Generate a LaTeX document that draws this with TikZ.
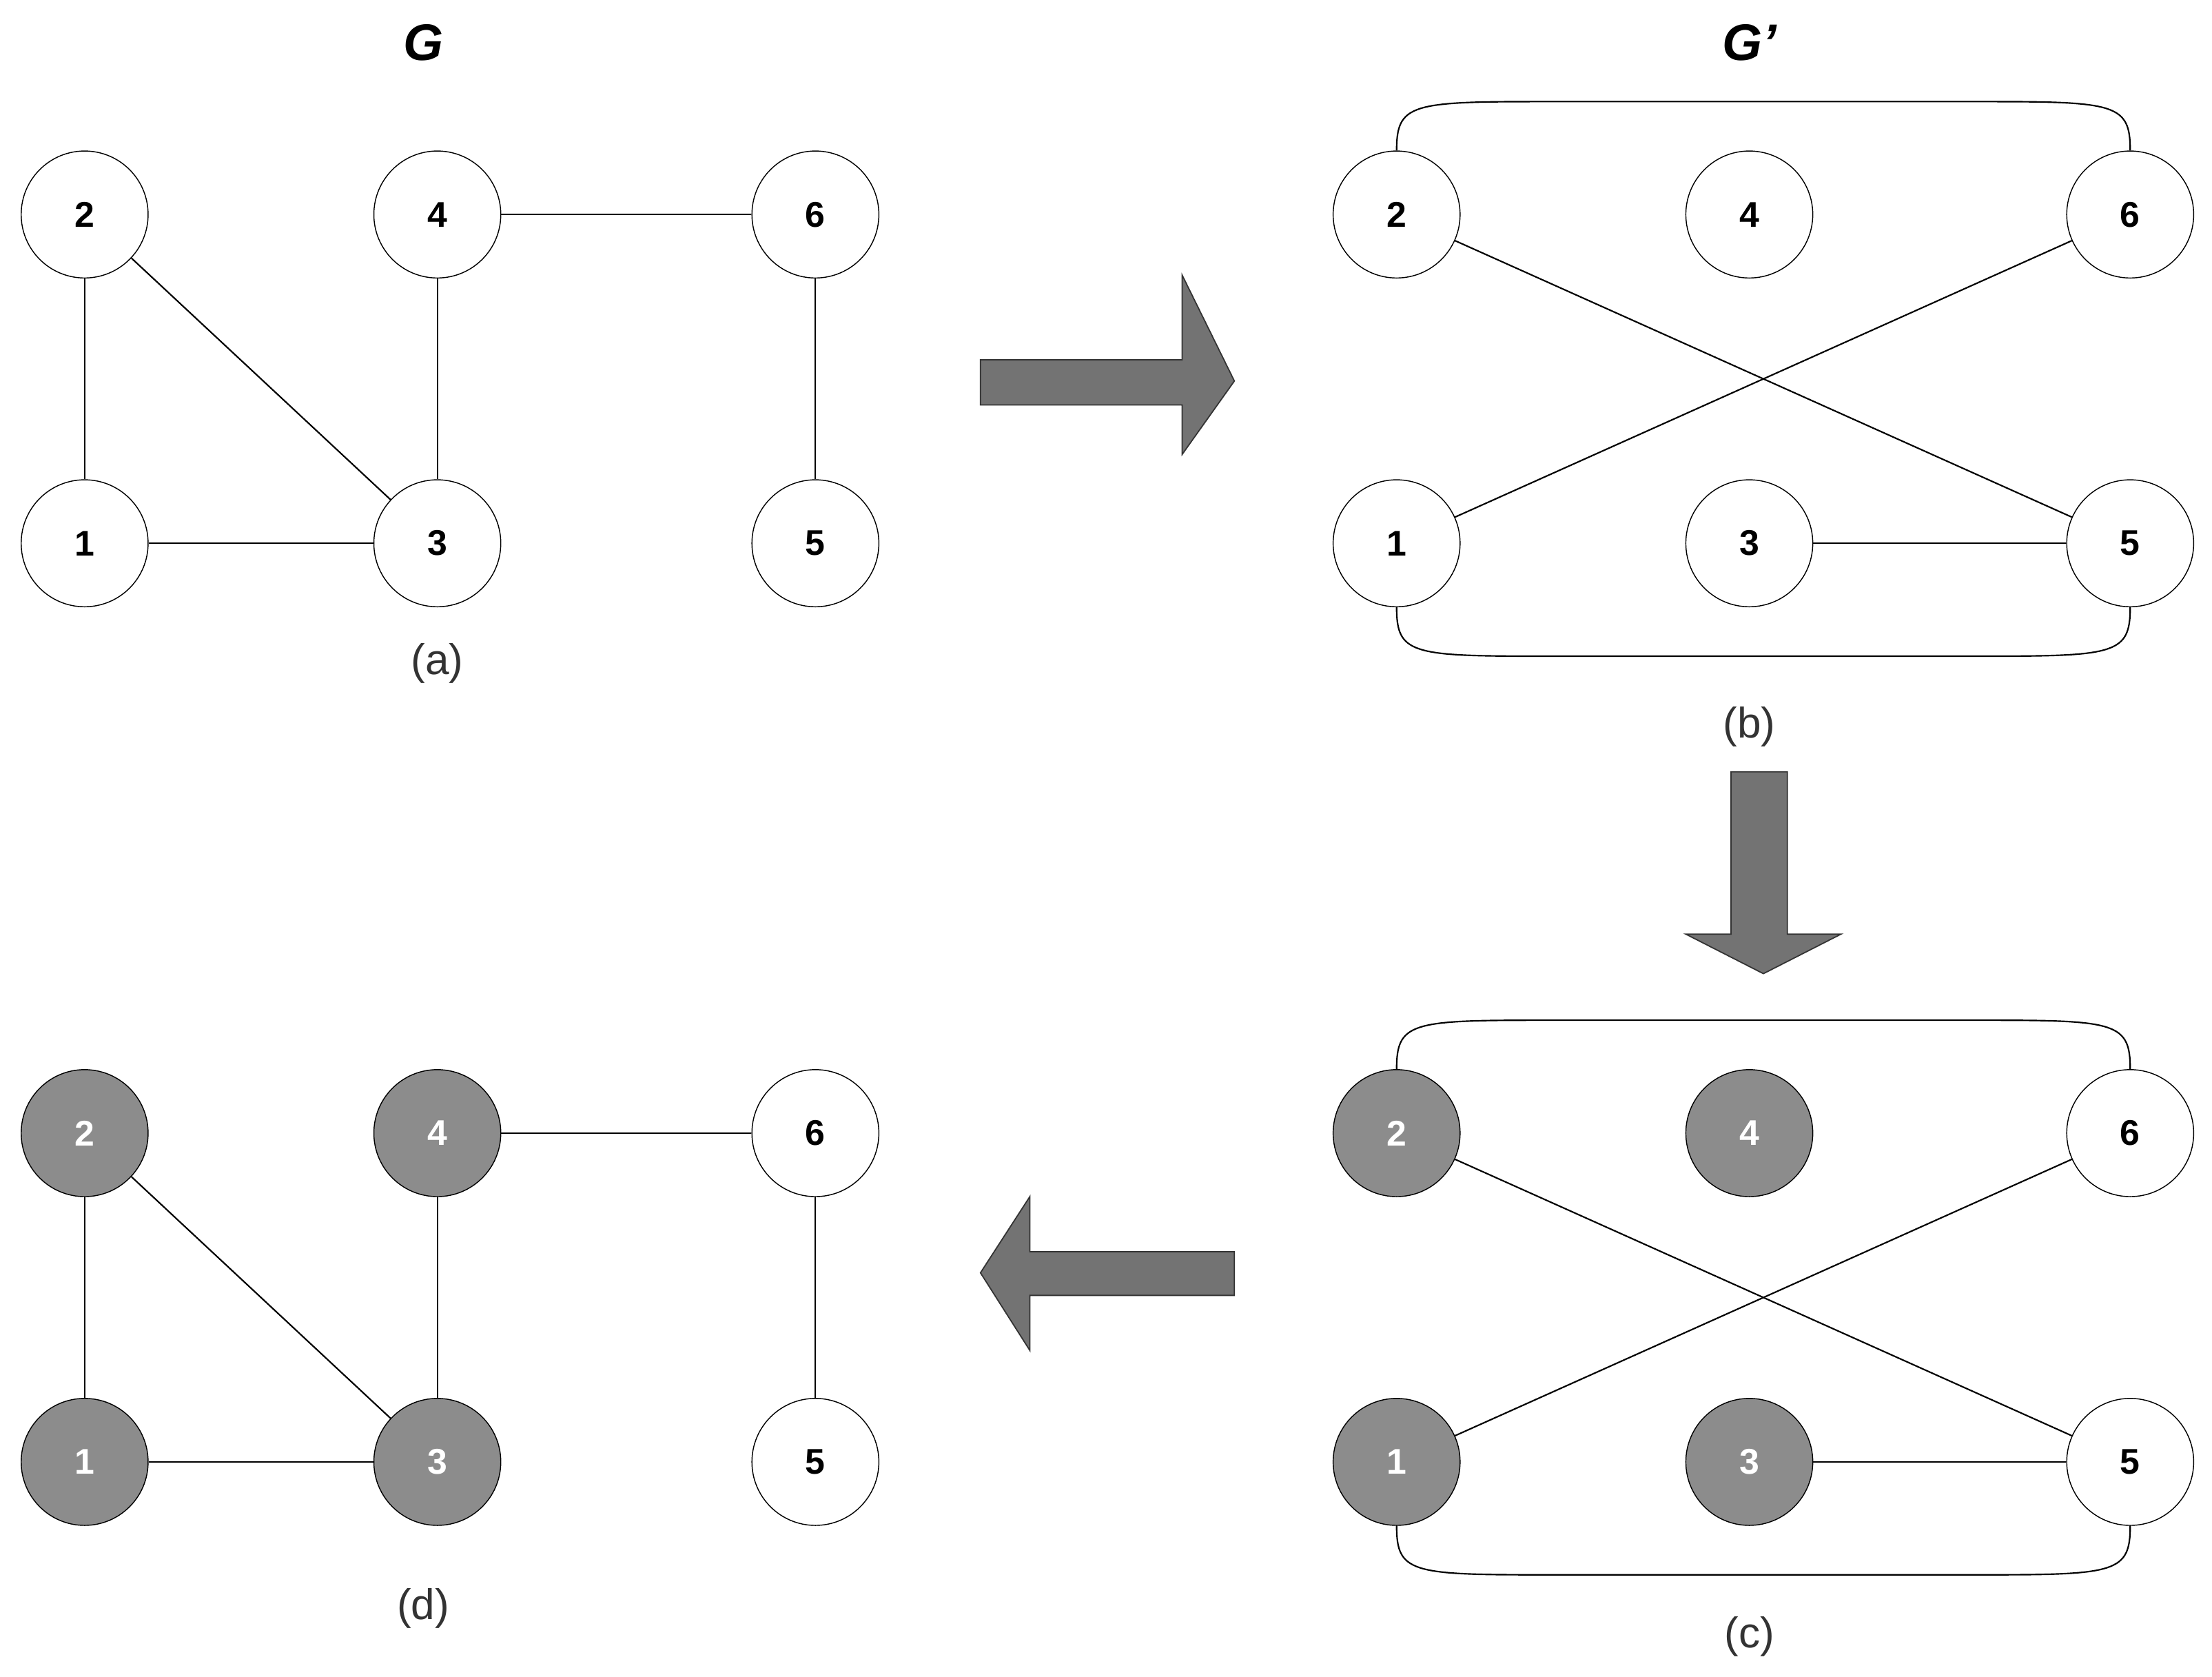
\documentclass[tikz,border=0pt]{standalone}
\usepackage{fontspec}
\setmainfont{Liberation Sans}
\usepackage{xcolor}
\usetikzlibrary{positioning}
\definecolor{vgray}{RGB}{140,140,140}
\definecolor{agray}{RGB}{115,115,115}

\begin{document}
\begin{tikzpicture}[x=0.02cm, y=-0.02cm,
    vertex/.style={draw, circle, minimum size=1.8cm, inner sep=0pt, font=\Large\bfseries, fill=white},
    marked/.style={vertex, fill=vgray, text=white},
    edge/.style={draw, line width=0.6pt},
    blockarrow/.style={draw=black!80, fill=agray, line width=0.5pt},
    caption/.style={font=\LARGE, text=black!80}
]
\useasboundingbox (0,0) rectangle (1568,1188);

% titles
\node[font=\huge\bfseries\itshape] (tG) at (300,30) {G};
\node[font=\huge\bfseries\itshape] (tGp) at (1240,30) {G’};

% (a)
\node[vertex] (a2) at (60,152) {2};
\node[vertex] (a4) at (310,152) {4};
\node[vertex] (a6) at (578,152) {6};
\node[vertex] (a1) at (60,385) {1};
\node[vertex] (a3) at (310,385) {3};
\node[vertex] (a5) at (578,385) {5};
\draw[edge] (a2) -- (a1);
\draw[edge] (a2) -- (a3);
\draw[edge] (a1) -- (a3);
\draw[edge] (a4) -- (a3);
\draw[edge] (a4) -- (a6);
\draw[edge] (a6) -- (a5);
\node[caption] (la) at (310,470) {(a)};

% (b)
\node[vertex] (b2) at (990,152) {2};
\node[vertex] (b4) at (1240,152) {4};
\node[vertex] (b6) at (1510,152) {6};
\node[vertex] (b1) at (990,385) {1};
\node[vertex] (b3) at (1240,385) {3};
\node[vertex] (b5) at (1510,385) {5};
\draw[edge] (b2) -- (b5);
\draw[edge] (b1) -- (b6);
\draw[edge] (b3) -- (b5);
\draw[edge] (b2.north) .. controls (990,74) and (1000,72) .. (1090,72) -- (1410,72) .. controls (1500,72) and (1510,74) .. (b6.north);
\draw[edge] (b1.south) .. controls (990,463) and (1000,465) .. (1090,465) -- (1410,465) .. controls (1500,465) and (1510,463) .. (b5.south);
\node[caption] (lb) at (1240,515) {(b)};

% (c)
\node[marked] (c2) at (990,803) {2};
\node[marked] (c4) at (1240,803) {4};
\node[vertex] (c6) at (1510,803) {6};
\node[marked] (c1) at (990,1036) {1};
\node[marked] (c3) at (1240,1036) {3};
\node[vertex] (c5) at (1510,1036) {5};
\draw[edge] (c2) -- (c5);
\draw[edge] (c1) -- (c6);
\draw[edge] (c3) -- (c5);
\draw[edge] (c2.north) .. controls (990,725) and (1000,723) .. (1090,723) -- (1410,723) .. controls (1500,723) and (1510,725) .. (c6.north);
\draw[edge] (c1.south) .. controls (990,1114) and (1000,1116) .. (1090,1116) -- (1410,1116) .. controls (1500,1116) and (1510,1114) .. (c5.south);
\node[caption] (lc) at (1240,1160) {(c)};

% (d)
\node[marked] (d2) at (60,803) {2};
\node[marked] (d4) at (310,803) {4};
\node[vertex] (d6) at (578,803) {6};
\node[marked] (d1) at (60,1036) {1};
\node[marked] (d3) at (310,1036) {3};
\node[vertex] (d5) at (578,1036) {5};
\draw[edge] (d2) -- (d1);
\draw[edge] (d2) -- (d3);
\draw[edge] (d1) -- (d3);
\draw[edge] (d4) -- (d3);
\draw[edge] (d4) -- (d6);
\draw[edge] (d6) -- (d5);
\node[caption] (ld) at (300,1140) {(d)};

% block arrows
\draw[blockarrow] (695,255) -- (838,255) -- (838,195) -- (875,270) -- (838,322) -- (838,287) -- (695,287) -- cycle;
\draw[blockarrow] (1227,547) -- (1267,547) -- (1267,662) -- (1305,662) -- (1250,690) -- (1195,662) -- (1227,662) -- cycle;
\draw[blockarrow] (875,887) -- (730,887) -- (730,848) -- (695,902) -- (730,957) -- (730,918) -- (875,918) -- cycle;
\end{tikzpicture}
\end{document}
